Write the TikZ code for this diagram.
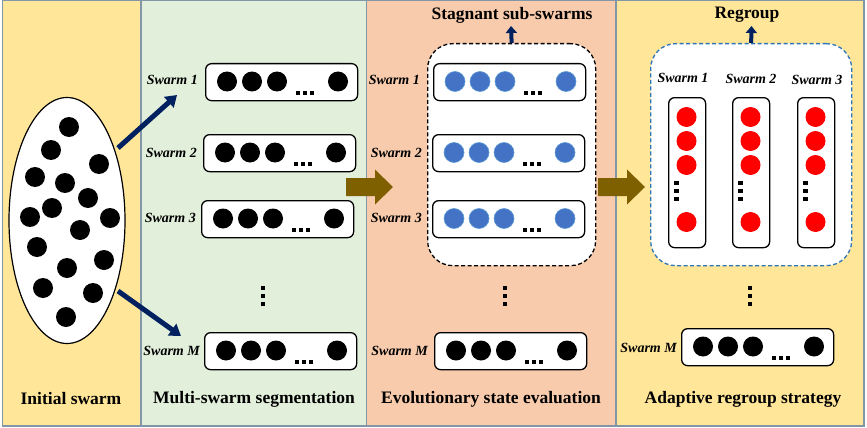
\documentclass[tikz,border=0pt]{standalone}
\usepackage{fontspec}
\setmainfont{Liberation Serif}
\usetikzlibrary{arrows.meta,shapes.geometric}
\definecolor{pyellow}{HTML}{FFE699}
\definecolor{pgreen}{HTML}{E2EFDA}
\definecolor{porange}{HTML}{F8CBAD}
\definecolor{pborder}{HTML}{8296A8}
\definecolor{navyc}{HTML}{002060}
\definecolor{brownc}{HTML}{7F6000}
\definecolor{dotblue}{HTML}{4472C4}
\definecolor{dotblueline}{HTML}{5B9BD5}
\definecolor{dashblue}{HTML}{2E75B6}
\newcommand\hdotsat[2]{\foreach \dx in {-7,0,7}{\fill ({#1+\dx-2},{#2-2}) rectangle ++(4.2,4.2);}}
\newcommand\vdotsat[2]{\foreach \dy in {-8,0,8}{\fill ({#1-2.2},{#2+\dy-2.2}) rectangle ++(4.5,4.5);}}
\newcommand\swarmrow[4]{%
  \begin{scope}[shift={(#2,#3)}]
    \node[sbox, anchor=north west, minimum width=152pt, minimum height=37pt] (#1) at (0,0) {};
    \node[#4] (#1a) at (22,18.5) {};
    \node[#4] (#1b) at (47,18.5) {};
    \node[#4] (#1c) at (72,18.5) {};
    \node[#4] (#1d) at (133,18.5) {};
    \hdotsat{100}{30}
  \end{scope}}
\newcommand\redcol[3]{%
  \begin{scope}[shift={(#2,#3)}]
    \node[sbox, anchor=north west, minimum width=37pt, minimum height=150pt] (#1) at (0,0) {};
    \node[rdot] (#1a) at (18.5,20) {};
    \node[rdot] (#1b) at (18.5,44) {};
    \node[rdot] (#1c) at (18.5,68) {};
    \node[rdot] (#1d) at (18.5,125) {};
    \vdotsat{8.5}{94}
  \end{scope}}
\begin{document}
\begin{tikzpicture}[x=1pt,y=-1pt,
  sbox/.style={draw=black, line width=1.3pt, fill=white, rounded corners=6pt, inner sep=0pt},
  kdot/.style={circle, fill=black, minimum size=20pt, inner sep=0pt},
  bdot/.style={circle, fill=dotblue, draw=dotblueline, line width=0.6pt, minimum size=20pt, inner sep=0pt},
  rdot/.style={circle, fill=red, minimum size=20pt, inner sep=0pt},
  slab/.style={font=\fontsize{14}{14}\selectfont\bfseries\itshape, inner sep=0pt},
  ttl/.style={font=\fontsize{17.5}{20}\selectfont\bfseries, inner sep=0pt},
  navyarrow/.style={navyc, line width=5pt, -{Triangle[width=14pt,length=11pt]}},
  uparrow/.style={navyc, line width=4pt, -{Triangle[width=11pt,length=7pt]}}]
\useasboundingbox (0,0) rectangle (867,428);
\fill[white] (0,0) rectangle (867,428);
% panels
\fill[pyellow] (2.5,0.5) rectangle (141,426);
\fill[pgreen] (141,0.5) rectangle (366.5,426);
\fill[porange] (366.5,0.5) rectangle (616,426);
\fill[pyellow] (616,0.5) rectangle (864,426);
\draw[pborder, line width=1.3pt] (2.5,0.5) rectangle (864,426);
\draw[pborder, line width=1.1pt] (141,0.5) -- (141,426) (366.5,0.5) -- (366.5,426) (616,0.5) -- (616,426);
% panel 1
\node[ellipse, draw=black, fill=white, line width=1.2pt, minimum width=116pt, minimum height=246pt, inner sep=0pt] (ell) at (67,220.5) {};
\foreach \i/\px/\py in {1/69/127,2/51/150,3/99/164,4/35/177,5/65/183,6/88/198,7/52/208,8/30/217,9/110/218,10/80/230,11/37/247,12/104/260,13/67/268,14/43/288,15/93/293,16/66/317}
  \node[kdot] (p\i) at (\px,\py) {};
\node[ttl] (t1) at (71,399) {Initial swarm};
% panel 2
\swarmrow{a1}{205}{63}{kdot}
\swarmrow{a2}{203}{134}{kdot}
\swarmrow{a3}{201}{200}{kdot}
\swarmrow{aM}{204}{332}{kdot}
\node[slab, anchor=east] (la1) at (198,80) {Swarm 1};
\node[slab, anchor=east] (la2) at (197,153) {Swarm 2};
\node[slab, anchor=east] (la3) at (196,218) {Swarm 3};
\node[slab, anchor=east] (laM) at (200,351) {Swarm M};
\vdotsat{263}{296}
\coordinate (e1s) at (118,148);
\coordinate (e1e) at (177,95);
\coordinate (e2s) at (118,291);
\coordinate (e2e) at (181,336);
\draw[navyarrow] (e1s) -- (e1e);
\draw[navyarrow] (e2s) -- (e2e);
\node[ttl] (t2) at (254,399) {Multi-swarm segmentation};
% arrow 2->3
\fill[brownc] (346,178) -- (375,178) -- (375,169.5) -- (393,187) -- (375,204.5) -- (375,196) -- (346,196) -- cycle;
% panel 3
\node[draw=black, dash pattern=on 4pt off 2.5pt, line width=1.3pt, fill=white, rounded corners=25pt, minimum width=168pt, minimum height=222pt, anchor=north west, inner sep=0pt] (c3) at (427,43) {};
\swarmrow{b1}{433}{63}{bdot}
\swarmrow{b2}{432}{134}{bdot}
\swarmrow{b3}{432}{200}{bdot}
\swarmrow{bM}{434}{332}{kdot}
\node[slab, anchor=east] (lb1) at (420,80) {Swarm 1};
\node[slab, anchor=east] (lb2) at (422,153) {Swarm 2};
\node[slab, anchor=east] (lb3) at (422,218) {Swarm 3};
\node[slab, anchor=east] (lbM) at (428,351) {Swarm M};
\vdotsat{505}{296}
\node[ttl] (t3s) at (512,15) {Stagnant sub-swarms};
\coordinate (u3) at (511,26);
\draw[uparrow] (c3.north) -- (u3);
\node[ttl] (t3) at (491,399) {Evolutionary state evaluation};
% arrow 3->4
\fill[brownc] (598,178) -- (627,178) -- (627,169.5) -- (645,187) -- (627,204.5) -- (627,196) -- (598,196) -- cycle;
% panel 4
\node[draw=dashblue, dash pattern=on 4pt off 2.5pt, line width=1.3pt, fill=white, rounded corners=25pt, minimum width=201pt, minimum height=222pt, anchor=north west, inner sep=0pt] (c4) at (650,43) {};
\node[slab] (lc1) at (683,78) {Swarm 1};
\node[slab] (lc2) at (751,79) {Swarm 2};
\node[slab] (lc3) at (817,80) {Swarm 3};
\redcol{r1}{668}{97}
\redcol{r2}{732}{97}
\redcol{r3}{797}{97}
\node[ttl] (t4s) at (747,15) {Regroup};
\coordinate (u4) at (751.5,26);
\draw[uparrow] (c4.north) -- (u4);
\vdotsat{750}{296}
\swarmrow{cM}{681}{328}{kdot}
\node[slab, anchor=east] (lcM) at (677,348) {Swarm M};
\node[ttl] (t4) at (743,399) {Adaptive regroup strategy};
\end{tikzpicture}
\end{document}
